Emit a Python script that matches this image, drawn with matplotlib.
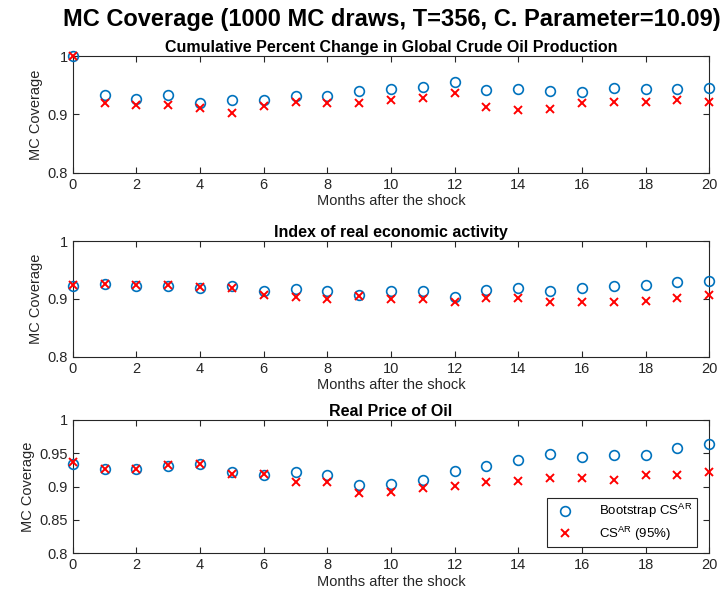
import matplotlib
matplotlib.use('Agg')
import matplotlib.pyplot as plt
import numpy as np
from matplotlib.ticker import FuncFormatter

plt.rcParams['font.family'] = ['Liberation Sans', 'DejaVu Sans']
plt.rcParams['mathtext.fontset'] = 'custom'
plt.rcParams['mathtext.rm'] = 'Liberation Sans'

# Horizontes (meses despues del shock)
meses = np.arange(0, 21)

# Panel 1: produccion global de crudo
boot_prod = [1.000, 0.934, 0.927, 0.933, 0.920, 0.924, 0.925, 0.931, 0.932, 0.940, 0.943,
             0.947, 0.956, 0.942, 0.944, 0.940, 0.938, 0.946, 0.943, 0.944, 0.946]
ar_prod = [1.000, 0.919, 0.916, 0.916, 0.911, 0.903, 0.915, 0.921, 0.919, 0.919, 0.924,
           0.928, 0.936, 0.913, 0.907, 0.909, 0.919, 0.921, 0.921, 0.924, 0.921]

# Panel 2: actividad economica real
boot_act = [0.923, 0.925, 0.923, 0.923, 0.919, 0.923, 0.914, 0.917, 0.914, 0.906, 0.913,
            0.914, 0.903, 0.915, 0.918, 0.914, 0.918, 0.923, 0.924, 0.929, 0.931]
ar_act = [0.924, 0.925, 0.924, 0.924, 0.920, 0.918, 0.907, 0.903, 0.899, 0.905, 0.900,
          0.899, 0.894, 0.901, 0.902, 0.895, 0.895, 0.894, 0.897, 0.901, 0.907]

# Panel 3: precio real del petroleo
boot_price = [0.934, 0.9265, 0.927, 0.9305, 0.9345, 0.9225, 0.918, 0.922, 0.918, 0.9025, 0.9035,
              0.9095, 0.9235, 0.9305, 0.9405, 0.9495, 0.944, 0.948, 0.948, 0.9575, 0.9645]
ar_price = [0.9365, 0.9265, 0.926, 0.9325, 0.934, 0.9185, 0.9185, 0.907, 0.907, 0.890, 0.8925,
            0.898, 0.9015, 0.907, 0.9085, 0.9135, 0.9125, 0.9095, 0.9175, 0.9175, 0.9225]

titulos = ['Cumulative Percent Change in Global Crude Oil Production',
           'Index of real economic activity',
           'Real Price of Oil']
yticks = [[0.8, 0.9, 1.0], [0.8, 0.9, 1.0], [0.8, 0.85, 0.9, 0.95, 1.0]]
series = [(boot_prod, ar_prod), (boot_act, ar_act), (boot_price, ar_price)]

# posiciones [izq, abajo, ancho, alto] en fraccion de figura
posiciones = [[0.1003, 0.7145, 0.878, 0.1929],
              [0.1003, 0.4104, 0.878, 0.1912],
              [0.1003, 0.0855, 0.878, 0.2203]]

gris = '#262626'
fig = plt.figure(figsize=(7.25, 6.05), dpi=100)

for i in range(3):
    ax = fig.add_axes(posiciones[i])
    b, a = series[i]
    ax.plot(meses, b, 'o', mfc='none', mec='#0072BD', ms=7, mew=1.2,
            clip_on=False, label=r'Bootstrap CS$^{\mathrm{AR}}$', zorder=3)
    ax.plot(meses, a, 'x', color='red', ms=5.5, mew=1.4,
            clip_on=False, label=r'CS$^{\mathrm{AR}}$ (95%)', zorder=4)
    ax.set_xlim(0, 20)
    ax.set_ylim(0.8, 1.0)
    ax.set_xticks(np.arange(0, 21, 2))
    ax.set_yticks(yticks[i])
    ax.yaxis.set_major_formatter(FuncFormatter(lambda v, p: f'{v:g}'))
    ax.tick_params(direction='in', top=True, right=True, length=4,
                   labelsize=10.5, colors=gris, width=0.8)
    for s in ax.spines.values():
        s.set_color(gris)
        s.set_linewidth(0.8)
    ax.set_xlabel('Months after the shock', fontsize=10.5, color=gris, labelpad=2)
    ax.set_ylabel('MC Coverage', fontsize=10.5, color=gris, labelpad=3)
    ax.set_title(titulos[i], fontsize=11.5, fontweight='bold', pad=3)
    if i == 2:
        leg = ax.legend(loc='lower right', fontsize=9.5, fancybox=False,
                        edgecolor='#262626', framealpha=1, borderpad=0.35,
                        labelspacing=0.3, handletextpad=1.6, borderaxespad=0,
                        bbox_to_anchor=(0.981, 0.045))
        leg.get_frame().set_linewidth(0.8)

fig.suptitle('MC Coverage (1000 MC draws, T=356, C. Parameter=10.09)',
             fontsize=17, fontweight='bold', x=0.54, y=0.987)

fig.savefig('out.png', dpi=100)
